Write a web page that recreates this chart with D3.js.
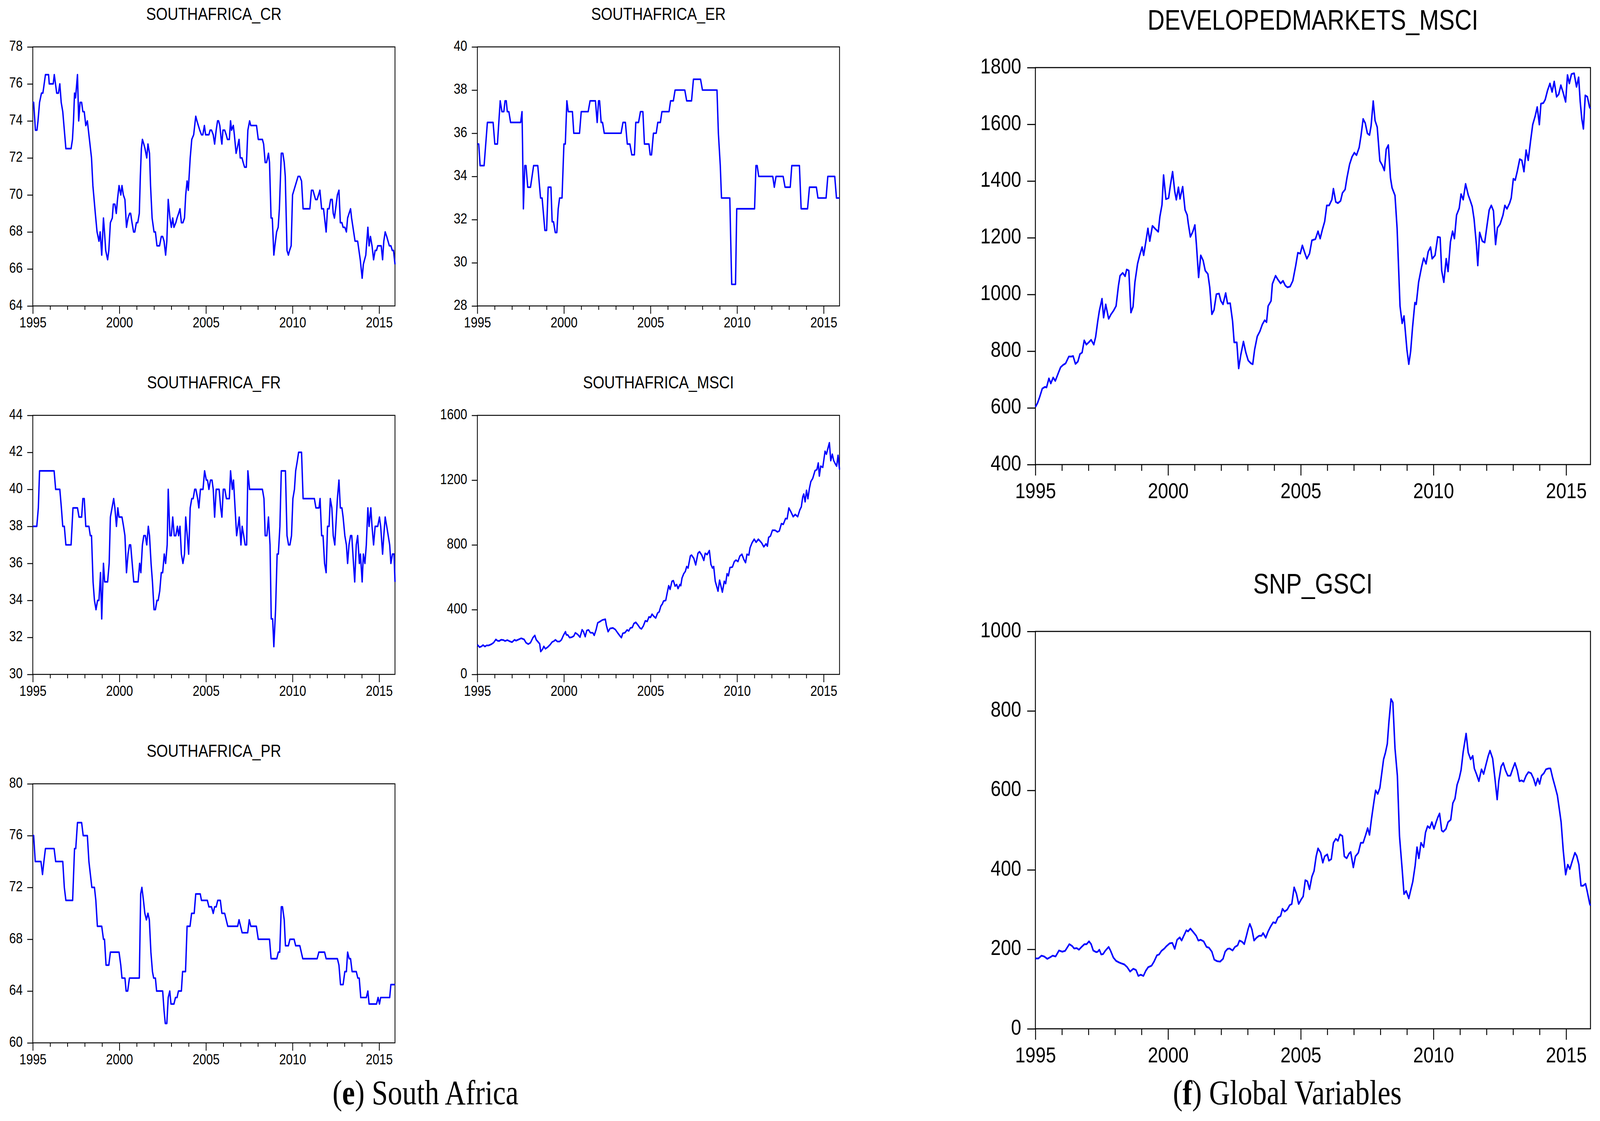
<!DOCTYPE html>
<html><head><meta charset="utf-8">
<script src="https://cdn.jsdelivr.net/npm/d3@7"></script>
<style>html,body{margin:0;padding:0;background:#fff;overflow:hidden;width:100%;height:100%}
#chart{display:block;width:100vw;height:100vh}</style>
</head><body>
<svg id="chart" viewBox="0 0 4877 2869" preserveAspectRatio="none"></svg>
<script>
// ---------- DATA ----------
const xTickYears = d3.range(1995, 2016);
const xLabelYears = [1995, 2000, 2005, 2010, 2015];
const firstObs = 1995, lastObs = 1995 + 251 / 12;

const crTicks = [64, 66, 68, 70, 72, 74, 76, 78];
const erTicks = [28, 30, 32, 34, 36, 38, 40];
const frTicks = [30, 32, 34, 36, 38, 40, 42, 44];
const saMsciTicks = [0, 400, 800, 1200, 1600];
const prTicks = [60, 64, 68, 72, 76, 80];
const devTicks = [400, 600, 800, 1000, 1200, 1400, 1600, 1800];
const gsciTicks = [0, 200, 400, 600, 800, 1000];

const crData = [[1995,75],[1995.05,75],[1995.15,73.5],[1995.24,73.5],[1995.30,74],[1995.39,75],[1995.50,75.5],[1995.58,75.5],[1995.62,75.75],[1995.73,76.5],[1995.91,76.5],[1995.95,76],[1996.18,76],[1996.24,76.5],[1996.38,75.5],[1996.48,75.5],[1996.56,76],[1996.64,75],[1996.73,74.5],[1996.82,73.5],[1996.91,72.5],[1997.21,72.5],[1997.29,73],[1997.35,74],[1997.41,75.5],[1997.47,75.25],[1997.58,76.5],[1997.65,74],[1997.73,75],[1997.82,75],[1997.89,74.5],[1997.97,74.5],[1998.06,73.75],[1998.15,74],[1998.27,73],[1998.39,72],[1998.47,70.5],[1998.61,69],[1998.71,68],[1998.82,67.5],[1998.89,68],[1998.98,66.75],[1999.08,68.75],[1999.14,68],[1999.21,67],[1999.32,66.5],[1999.39,67],[1999.48,68.5],[1999.59,68.75],[1999.65,69.5],[1999.74,69.5],[1999.82,69],[1999.89,69.75],[1999.98,70.5],[2000.08,70],[2000.15,70.5],[2000.23,70],[2000.32,69.75],[2000.41,68.25],[2000.50,68.75],[2000.59,69],[2000.65,69],[2000.73,68.5],[2000.82,68],[2000.89,68],[2000.98,68.5],[2001.06,68.5],[2001.15,69],[2001.21,71],[2001.27,72.5],[2001.33,73],[2001.41,72.75],[2001.48,72.5],[2001.58,72],[2001.65,72.75],[2001.74,72.25],[2001.80,70.5],[2001.89,68.75],[2002.00,68],[2002.08,68],[2002.17,67.25],[2002.32,67.25],[2002.42,67.75],[2002.50,67.75],[2002.58,67.5],[2002.67,66.75],[2002.74,67.5],[2002.82,69.75],[2002.92,68.75],[2003.00,68.25],[2003.08,68.75],[2003.15,68.25],[2003.26,68.5],[2003.33,68.75],[2003.42,69],[2003.50,69.25],[2003.58,68.5],[2003.67,68.5],[2003.76,68.75],[2003.83,70],[2003.91,70.75],[2003.98,70.25],[2004.09,72],[2004.18,73],[2004.29,73.25],[2004.41,74.25],[2004.48,74],[2004.64,73.5],[2004.74,73.25],[2004.82,73.25],[2004.91,73.75],[2004.98,73.25],[2005.17,73.25],[2005.24,73.5],[2005.32,73.5],[2005.42,73.25],[2005.50,72.75],[2005.59,73.5],[2005.67,74],[2005.73,74],[2005.80,73.75],[2005.88,73],[2005.92,72.75],[2005.98,73.5],[2006.08,73.5],[2006.17,73.25],[2006.24,73],[2006.35,73],[2006.42,74],[2006.48,73.5],[2006.58,73.75],[2006.64,73.25],[2006.74,72.25],[2006.80,72.5],[2006.91,73],[2006.98,72],[2007.08,72],[2007.15,71.75],[2007.23,71.5],[2007.33,71.5],[2007.42,73.5],[2007.52,74],[2007.59,73.75],[2007.92,73.75],[2008.02,73],[2008.26,73],[2008.33,72.75],[2008.42,71.75],[2008.50,71.75],[2008.61,72.25],[2008.67,71.75],[2008.76,68.75],[2008.83,68.75],[2008.92,66.75],[2008.98,67.25],[2009.08,68],[2009.17,68.25],[2009.24,69.25],[2009.35,72.25],[2009.44,72.25],[2009.52,71.75],[2009.58,71],[2009.68,67],[2009.76,66.75],[2009.83,67],[2009.92,67.25],[2010.00,70],[2010.08,70.25],[2010.32,71],[2010.42,71],[2010.52,70.75],[2010.61,69.25],[2011.00,69.25],[2011.09,70.25],[2011.18,70.25],[2011.33,69.75],[2011.42,69.75],[2011.58,70.25],[2011.68,69.25],[2011.79,69.25],[2011.94,68],[2012.02,69.25],[2012.11,69.25],[2012.20,69.75],[2012.29,69.75],[2012.35,69],[2012.42,68.75],[2012.59,70],[2012.68,70.25],[2012.76,68.5],[2012.85,68.5],[2012.92,68.25],[2013.02,68.25],[2013.11,68],[2013.18,68.75],[2013.35,69.25],[2013.41,68.75],[2013.53,68],[2013.61,67.5],[2013.76,67.5],[2013.91,66.5],[2014.02,65.5],[2014.09,66.25],[2014.23,66.75],[2014.35,68.25],[2014.42,67.25],[2014.50,67.75],[2014.59,67.25],[2014.68,66.5],[2014.77,67],[2014.85,67],[2014.92,67.25],[2015.12,67.25],[2015.20,66.5],[2015.27,67.5],[2015.35,68],[2015.44,67.75],[2015.59,67.25],[2015.68,67.25],[2015.76,67],[2015.83,67],[2015.917,66.25]];

const erData = [[1995,35.5],[1995.08,35.5],[1995.16,34.5],[1995.39,34.5],[1995.58,36.5],[1995.91,36.5],[1996.01,35.5],[1996.16,35.5],[1996.32,37.5],[1996.42,37],[1996.53,37],[1996.60,37.5],[1996.67,37.5],[1996.73,37],[1996.82,37],[1996.92,36.5],[1997.50,36.5],[1997.58,37],[1997.61,35.5],[1997.66,32.5],[1997.74,34.5],[1997.81,34.5],[1997.91,33.5],[1998.07,33.5],[1998.25,34.5],[1998.49,34.5],[1998.65,33],[1998.74,33],[1998.90,31.5],[1999.00,31.5],[1999.09,33.5],[1999.25,33.5],[1999.32,31.9],[1999.40,31.9],[1999.50,31.4],[1999.59,31.4],[1999.67,32.5],[1999.75,33],[1999.89,33],[2000.00,35.5],[2000.08,35.5],[2000.17,37.5],[2000.25,37],[2000.49,37],[2000.57,36],[2000.90,36],[2001.00,37],[2001.40,37],[2001.51,37.5],[2001.82,37.5],[2001.92,36.5],[2002.00,37.5],[2002.06,37.5],[2002.15,36.5],[2002.23,36.5],[2002.33,36],[2003.30,36],[2003.41,36.5],[2003.55,36.5],[2003.66,35.5],[2003.81,35.5],[2003.92,35],[2004.07,35],[2004.15,36.5],[2004.31,36.5],[2004.42,37],[2004.56,37],[2004.65,35.5],[2004.91,35.5],[2004.98,35],[2005.06,35],[2005.17,36],[2005.33,36],[2005.42,36.5],[2005.57,36.5],[2005.66,37],[2006.07,37],[2006.16,37.5],[2006.32,37.5],[2006.42,38],[2006.98,38],[2007.09,37.5],[2007.37,37.5],[2007.48,38.5],[2007.89,38.5],[2008.00,38],[2008.84,38],[2008.92,36],[2009.03,34.5],[2009.10,33],[2009.58,33],[2009.62,31.5],[2009.69,29],[2009.91,29],[2009.98,32.5],[2011.01,32.5],[2011.09,34.5],[2011.16,34.5],[2011.25,34],[2012.06,34],[2012.15,33.5],[2012.25,34],[2012.66,34],[2012.77,33.5],[2013.07,33.5],[2013.16,34.5],[2013.60,34.5],[2013.70,32.5],[2014.07,32.5],[2014.18,33.5],[2014.58,33.5],[2014.67,33],[2015.14,33],[2015.24,34],[2015.64,34],[2015.74,33],[2015.917,33]];

const frData = [[1995,38],[1995.23,38],[1995.32,39],[1995.39,41],[1996.23,41],[1996.32,40],[1996.56,40],[1996.65,39],[1996.73,38],[1996.82,38],[1996.91,37],[1997.21,37],[1997.32,39],[1997.58,39],[1997.67,38.5],[1997.82,38.5],[1997.89,39.5],[1997.97,39.5],[1998.06,38],[1998.24,38],[1998.32,37.5],[1998.39,37.5],[1998.48,35],[1998.56,34],[1998.65,33.5],[1998.74,34],[1998.82,34],[1998.91,35.5],[1998.98,33],[1999.08,36],[1999.15,35],[1999.32,35],[1999.41,36],[1999.48,38.5],[1999.67,39.5],[1999.74,39],[1999.83,38],[1999.91,39],[1999.98,38.5],[2000.15,38.5],[2000.24,38],[2000.32,37.5],[2000.41,35.5],[2000.50,36.5],[2000.58,37],[2000.65,37],[2000.74,36],[2000.83,35],[2001.08,35],[2001.17,36],[2001.24,35.5],[2001.33,37],[2001.41,37.5],[2001.50,37.5],[2001.58,37],[2001.67,38],[2001.74,37.5],[2001.83,36],[2001.91,35],[2002.00,33.5],[2002.08,33.5],[2002.17,34],[2002.24,34],[2002.33,34.5],[2002.42,35.5],[2002.50,35.5],[2002.59,36.5],[2002.67,36],[2002.76,37],[2002.82,40],[2002.92,37.5],[2003.00,37.5],[2003.08,38.5],[2003.17,37.5],[2003.26,37.5],[2003.35,38],[2003.42,37.5],[2003.50,38],[2003.58,36.5],[2003.67,36],[2003.76,36.5],[2003.83,38.5],[2003.92,37.5],[2004.00,36.5],[2004.09,39],[2004.18,39.5],[2004.26,39.5],[2004.35,40],[2004.42,40],[2004.52,39.5],[2004.59,39],[2004.68,40],[2004.83,40],[2004.92,41],[2005.02,40.5],[2005.09,40.5],[2005.17,40],[2005.26,40.5],[2005.35,40.5],[2005.42,40],[2005.50,38.5],[2005.59,40],[2005.76,40],[2005.85,39],[2005.92,38.5],[2006.00,40],[2006.09,40],[2006.18,39.5],[2006.35,39.5],[2006.42,41],[2006.52,40],[2006.59,40.5],[2006.68,39],[2006.77,37.5],[2006.85,38],[2006.92,38.5],[2007.02,37],[2007.09,38],[2007.18,37.5],[2007.26,37],[2007.35,37],[2007.42,41],[2007.52,40],[2008.26,40],[2008.35,39.5],[2008.42,37.5],[2008.52,37.5],[2008.61,38.5],[2008.70,37],[2008.77,33],[2008.85,33],[2008.92,31.5],[2009.02,33.5],[2009.11,36.5],[2009.18,36.5],[2009.27,38],[2009.35,41],[2009.59,41],[2009.68,37.5],[2009.77,37],[2009.85,37],[2009.94,37.5],[2010.02,39.5],[2010.11,40],[2010.18,41],[2010.27,41.5],[2010.35,42],[2010.52,42],[2010.61,39.5],[2011.26,39.5],[2011.35,39],[2011.53,39],[2011.59,39.5],[2011.68,37.5],[2011.76,37.5],[2011.85,36],[2011.94,35.5],[2012.02,38],[2012.11,38],[2012.18,39.5],[2012.27,39],[2012.35,37.5],[2012.44,37],[2012.59,39.5],[2012.68,40.5],[2012.76,39],[2012.85,39],[2012.92,38.5],[2013.02,37.5],[2013.11,37],[2013.18,36],[2013.26,37],[2013.35,37.5],[2013.42,37.5],[2013.52,36],[2013.59,35],[2013.68,37],[2013.76,37.5],[2013.86,36],[2013.92,36.5],[2014.02,35],[2014.09,36.5],[2014.18,36],[2014.26,37],[2014.35,39],[2014.42,38],[2014.52,39],[2014.59,38],[2014.68,37],[2014.77,38],[2014.92,38],[2015.02,38.5],[2015.09,38],[2015.20,36.5],[2015.27,37.5],[2015.35,38.5],[2015.44,38],[2015.61,37],[2015.68,36],[2015.77,36.5],[2015.86,36.5],[2015.917,35]];

const saMsciData = [[1995,183],[1995.13,168],[1995.24,173],[1995.33,181],[1995.44,172],[1995.53,179],[1995.66,179],[1995.82,187],[1995.94,196],[1996.07,216],[1996.16,208],[1996.26,206],[1996.37,214],[1996.51,212],[1996.60,206],[1996.73,212],[1996.84,206],[1997.00,199],[1997.15,214],[1997.23,208],[1997.39,216],[1997.53,223],[1997.70,216],[1997.81,196],[1997.94,187],[1998.07,196],[1998.21,227],[1998.32,241],[1998.40,214],[1998.49,203],[1998.60,189],[1998.66,141],[1998.77,156],[1998.84,173],[1998.93,158],[1999.07,169],[1999.20,183],[1999.32,200],[1999.43,206],[1999.51,214],[1999.62,203],[1999.75,203],[1999.86,214],[1999.97,241],[2000.09,264],[2000.14,244],[2000.22,244],[2000.33,227],[2000.46,230],[2000.57,237],[2000.66,257],[2000.80,246],[2000.93,230],[2001.05,276],[2001.13,264],[2001.23,233],[2001.32,271],[2001.42,275],[2001.53,257],[2001.67,257],[2001.75,241],[2001.86,277],[2001.95,318],[2002.06,325],[2002.22,336],[2002.39,341],[2002.45,304],[2002.55,264],[2002.67,284],[2002.83,287],[2002.97,277],[2003.10,257],[2003.24,237],[2003.32,227],[2003.40,254],[2003.52,257],[2003.65,275],[2003.74,268],[2003.84,287],[2003.95,290],[2004.04,314],[2004.15,322],[2004.28,304],[2004.39,287],[2004.48,281],[2004.59,300],[2004.70,331],[2004.81,327],[2004.91,355],[2005.00,352],[2005.09,372],[2005.19,359],[2005.30,348],[2005.41,379],[2005.50,386],[2005.60,422],[2005.69,436],[2005.75,453],[2005.88,457],[2005.96,501],[2006.05,548],[2006.13,525],[2006.24,575],[2006.32,579],[2006.42,545],[2006.51,555],[2006.59,530],[2006.70,555],[2006.75,548],[2006.82,595],[2006.92,622],[2007.01,636],[2007.09,666],[2007.17,657],[2007.30,731],[2007.37,737],[2007.50,717],[2007.61,676],[2007.74,748],[2007.83,758],[2007.96,737],[2008.08,704],[2008.16,748],[2008.27,740],[2008.40,765],[2008.49,679],[2008.58,657],[2008.65,666],[2008.74,575],[2008.90,514],[2008.99,582],[2009.15,508],[2009.26,575],[2009.34,561],[2009.42,622],[2009.50,609],[2009.59,660],[2009.73,663],[2009.84,697],[2009.94,706],[2010.05,697],[2010.16,731],[2010.28,742],[2010.39,710],[2010.49,690],[2010.57,742],[2010.68,737],[2010.75,782],[2010.86,812],[2010.99,835],[2011.10,816],[2011.23,835],[2011.42,812],[2011.54,788],[2011.67,806],[2011.75,792],[2011.82,846],[2011.93,855],[2012.04,890],[2012.20,890],[2012.33,880],[2012.44,886],[2012.56,931],[2012.67,927],[2012.80,963],[2012.89,961],[2012.99,1028],[2013.11,1004],[2013.24,974],[2013.36,988],[2013.50,974],[2013.62,1015],[2013.71,1035],[2013.79,1096],[2013.85,1114],[2013.93,1066],[2014.01,1137],[2014.09,1085],[2014.18,1150],[2014.26,1191],[2014.37,1211],[2014.50,1258],[2014.61,1265],[2014.69,1306],[2014.75,1225],[2014.83,1286],[2014.95,1279],[2015.08,1378],[2015.16,1360],[2015.24,1394],[2015.33,1431],[2015.41,1320],[2015.50,1360],[2015.58,1320],[2015.68,1299],[2015.75,1286],[2015.83,1353],[2015.917,1265]];

const prData = [[1995,76],[1995.05,76],[1995.14,74],[1995.47,74],[1995.56,73],[1995.64,74],[1995.73,75],[1996.23,75],[1996.32,74],[1996.73,74],[1996.82,72],[1996.91,71],[1997.30,71],[1997.41,75],[1997.48,75],[1997.58,77],[1997.82,77],[1997.91,76],[1998.15,76],[1998.24,74],[1998.41,72],[1998.56,72],[1998.64,71],[1998.73,69],[1998.98,69],[1999.08,68],[1999.14,68],[1999.23,66],[1999.39,66],[1999.48,67],[1999.98,67],[2000.08,66],[2000.15,65],[2000.32,65],[2000.39,64],[2000.48,64],[2000.58,65],[2001.15,65],[2001.23,71.5],[2001.30,72],[2001.39,71],[2001.47,70],[2001.56,69.5],[2001.65,70],[2001.73,69.5],[2001.82,67],[2001.91,65.5],[2001.98,65],[2002.08,65],[2002.15,64],[2002.50,64],[2002.58,62.5],[2002.65,61.5],[2002.74,61.5],[2002.82,63.5],[2002.91,64],[2002.98,63],[2003.15,63],[2003.24,63.5],[2003.33,63.5],[2003.41,64],[2003.58,64],[2003.65,65.5],[2003.82,65.5],[2003.91,69],[2004.08,69],[2004.17,70],[2004.32,70],[2004.41,71.5],[2004.67,71.5],[2004.74,71],[2005.08,71],[2005.17,70.5],[2005.32,70.5],[2005.42,70],[2005.50,70.5],[2005.59,70.5],[2005.68,71],[2005.83,71],[2005.92,70],[2006.08,70],[2006.17,69.5],[2006.26,69],[2006.83,69],[2006.91,69.5],[2007.00,69],[2007.09,68.5],[2007.41,68.5],[2007.50,69.5],[2007.59,69],[2007.91,69],[2008.02,68],[2008.67,68],[2008.76,66.5],[2009.09,66.5],[2009.18,67],[2009.26,67],[2009.35,70.5],[2009.42,70.5],[2009.52,69.5],[2009.59,67.5],[2009.76,67.5],[2009.85,68],[2010.09,68],[2010.18,67.5],[2010.42,67.5],[2010.59,66.5],[2011.42,66.5],[2011.52,67],[2011.85,67],[2011.94,66.5],[2012.59,66.5],[2012.68,66],[2012.77,64.5],[2012.92,64.5],[2013.02,65.5],[2013.11,65.5],[2013.18,67],[2013.27,66.5],[2013.35,66.5],[2013.44,65.5],[2013.68,65.5],[2013.77,65],[2013.85,65],[2013.94,63.5],[2014.26,63.5],[2014.35,64],[2014.42,63],[2014.85,63],[2014.94,63.5],[2015.02,63],[2015.09,63.5],[2015.61,63.5],[2015.68,64.5],[2015.917,64.5]];

const devMsciData = [[1995.00,603],[1995.08,617],[1995.16,638],[1995.26,668],[1995.36,674],[1995.42,672],[1995.51,704],[1995.58,686],[1995.67,707],[1995.75,695],[1995.86,722],[1995.95,743],[1996.04,751],[1996.14,757],[1996.26,781],[1996.36,781],[1996.42,783],[1996.51,755],[1996.60,763],[1996.68,790],[1996.76,795],[1996.84,838],[1996.92,823],[1997.02,832],[1997.10,840],[1997.20,823],[1997.27,850],[1997.35,906],[1997.41,942],[1997.51,985],[1997.57,918],[1997.65,965],[1997.76,914],[1997.85,930],[1997.94,942],[1998.04,959],[1998.13,1031],[1998.19,1066],[1998.29,1076],[1998.38,1064],[1998.44,1088],[1998.52,1084],[1998.60,936],[1998.68,957],[1998.75,1043],[1998.85,1108],[1998.93,1138],[1999.02,1167],[1999.08,1138],[1999.16,1185],[1999.24,1233],[1999.31,1188],[1999.41,1242],[1999.50,1233],[1999.63,1221],[1999.69,1274],[1999.77,1316],[1999.83,1421],[1999.92,1336],[2000.02,1340],[2000.09,1387],[2000.17,1433],[2000.25,1364],[2000.31,1334],[2000.39,1378],[2000.45,1337],[2000.55,1380],[2000.64,1298],[2000.72,1280],[2000.76,1251],[2000.84,1203],[2000.93,1221],[2001.01,1245],[2001.07,1173],[2001.15,1060],[2001.23,1138],[2001.32,1120],[2001.40,1084],[2001.50,1072],[2001.57,1025],[2001.65,930],[2001.73,945],[2001.82,1001],[2001.92,1003],[2001.99,977],[2002.07,965],[2002.17,1005],[2002.24,968],[2002.34,969],[2002.43,906],[2002.49,831],[2002.59,831],[2002.66,739],[2002.74,787],[2002.84,834],[2002.93,795],[2003.02,767],[2003.12,757],[2003.19,754],[2003.26,805],[2003.36,852],[2003.46,870],[2003.55,894],[2003.64,909],[2003.71,902],[2003.77,959],[2003.88,977],[2003.93,1037],[2004.05,1066],[2004.14,1052],[2004.24,1039],[2004.33,1048],[2004.42,1031],[2004.50,1025],[2004.60,1028],[2004.70,1048],[2004.81,1102],[2004.89,1147],[2004.98,1144],[2005.06,1173],[2005.16,1144],[2005.23,1126],[2005.33,1144],[2005.42,1191],[2005.55,1195],[2005.65,1223],[2005.73,1197],[2005.81,1227],[2005.90,1257],[2005.98,1314],[2006.07,1314],[2006.17,1334],[2006.23,1373],[2006.32,1326],[2006.40,1322],[2006.50,1330],[2006.57,1358],[2006.67,1370],[2006.74,1411],[2006.84,1459],[2006.93,1485],[2007.02,1500],[2007.10,1491],[2007.20,1518],[2007.27,1560],[2007.35,1619],[2007.43,1604],[2007.51,1568],[2007.59,1562],[2007.65,1595],[2007.73,1682],[2007.80,1613],[2007.88,1590],[2007.98,1471],[2008.07,1456],[2008.15,1437],[2008.22,1512],[2008.30,1527],[2008.38,1411],[2008.44,1376],[2008.55,1349],[2008.63,1233],[2008.74,959],[2008.82,898],[2008.89,924],[2009.00,805],[2009.07,754],[2009.14,799],[2009.21,882],[2009.30,971],[2009.35,965],[2009.44,1043],[2009.55,1096],[2009.63,1128],[2009.72,1108],[2009.80,1150],[2009.89,1167],[2009.95,1126],[2010.06,1138],[2010.16,1203],[2010.25,1201],[2010.31,1084],[2010.39,1043],[2010.48,1126],[2010.55,1081],[2010.64,1185],[2010.72,1223],[2010.79,1197],[2010.87,1280],[2010.97,1304],[2011.04,1354],[2011.12,1334],[2011.21,1390],[2011.31,1351],[2011.39,1330],[2011.46,1310],[2011.53,1266],[2011.62,1173],[2011.67,1102],[2011.74,1219],[2011.84,1188],[2011.93,1183],[2012.02,1245],[2012.10,1298],[2012.18,1314],[2012.26,1295],[2012.34,1176],[2012.41,1235],[2012.51,1248],[2012.62,1280],[2012.69,1314],[2012.77,1302],[2012.87,1322],[2012.93,1340],[2013.01,1408],[2013.08,1403],[2013.16,1435],[2013.25,1477],[2013.33,1473],[2013.41,1433],[2013.49,1509],[2013.57,1473],[2013.66,1542],[2013.74,1599],[2013.83,1628],[2013.91,1661],[2013.99,1599],[2014.05,1673],[2014.14,1675],[2014.21,1687],[2014.30,1720],[2014.39,1744],[2014.47,1714],[2014.55,1751],[2014.64,1697],[2014.72,1706],[2014.80,1738],[2014.88,1714],[2014.98,1679],[2015.05,1774],[2015.12,1744],[2015.20,1777],[2015.30,1780],[2015.39,1732],[2015.47,1766],[2015.53,1679],[2015.59,1619],[2015.65,1584],[2015.72,1702],[2015.80,1697],[2015.88,1661],[2015.917,1655]];

const gsciData = [[1995.00,177],[1995.11,177],[1995.23,184],[1995.33,182],[1995.45,176],[1995.58,181],[1995.65,184],[1995.76,182],[1995.89,197],[1996.01,194],[1996.12,196],[1996.28,213],[1996.39,208],[1996.46,202],[1996.56,203],[1996.64,199],[1996.74,206],[1996.85,213],[1996.93,213],[1997.02,220],[1997.10,213],[1997.18,197],[1997.29,193],[1997.35,194],[1997.41,199],[1997.48,187],[1997.55,188],[1997.63,196],[1997.76,206],[1997.83,197],[1997.94,179],[1998.04,171],[1998.15,167],[1998.22,165],[1998.35,162],[1998.46,155],[1998.57,144],[1998.69,151],[1998.79,148],[1998.88,133],[1998.97,136],[1999.07,133],[1999.16,146],[1999.25,155],[1999.38,159],[1999.47,169],[1999.58,185],[1999.66,187],[1999.75,196],[1999.86,202],[1999.94,208],[2000.06,215],[2000.16,216],[2000.25,201],[2000.34,224],[2000.44,230],[2000.51,222],[2000.59,234],[2000.69,248],[2000.75,245],[2000.84,252],[2000.93,245],[2001.06,234],[2001.14,222],[2001.23,224],[2001.34,220],[2001.45,206],[2001.54,204],[2001.65,194],[2001.74,174],[2001.85,170],[2001.96,169],[2002.07,176],[2002.15,194],[2002.24,201],[2002.32,202],[2002.43,197],[2002.52,206],[2002.62,210],[2002.69,222],[2002.79,219],[2002.87,213],[2002.96,236],[2003.02,252],[2003.08,264],[2003.16,250],[2003.24,222],[2003.33,229],[2003.43,234],[2003.52,234],[2003.58,241],[2003.68,229],[2003.77,245],[2003.86,257],[2003.96,268],[2004.05,266],[2004.14,280],[2004.24,284],[2004.31,302],[2004.39,295],[2004.49,300],[2004.58,311],[2004.66,314],[2004.75,356],[2004.84,339],[2004.92,314],[2005.02,326],[2005.09,333],[2005.17,374],[2005.25,371],[2005.33,351],[2005.42,383],[2005.50,397],[2005.58,434],[2005.65,454],[2005.75,443],[2005.83,418],[2005.90,434],[2006.00,439],[2006.06,423],[2006.15,427],[2006.23,468],[2006.32,478],[2006.40,473],[2006.48,489],[2006.57,485],[2006.64,434],[2006.73,429],[2006.82,441],[2006.88,445],[2006.98,406],[2007.06,434],[2007.17,443],[2007.26,468],[2007.35,468],[2007.45,489],[2007.52,505],[2007.59,488],[2007.66,526],[2007.73,559],[2007.82,600],[2007.90,591],[2007.98,606],[2008.04,637],[2008.12,678],[2008.19,695],[2008.26,717],[2008.32,771],[2008.40,830],[2008.47,821],[2008.55,706],[2008.64,637],[2008.72,485],[2008.82,402],[2008.89,339],[2008.97,347],[2009.07,328],[2009.14,348],[2009.22,370],[2009.31,411],[2009.38,457],[2009.45,429],[2009.53,468],[2009.63,457],[2009.70,494],[2009.78,510],[2009.86,505],[2009.94,520],[2010.02,503],[2010.11,522],[2010.17,533],[2010.23,542],[2010.31,499],[2010.37,496],[2010.47,503],[2010.55,520],[2010.65,526],[2010.73,568],[2010.81,579],[2010.89,614],[2010.97,630],[2011.04,651],[2011.12,697],[2011.23,743],[2011.31,695],[2011.40,678],[2011.48,687],[2011.54,655],[2011.62,641],[2011.71,623],[2011.81,653],[2011.89,641],[2011.96,660],[2012.06,686],[2012.13,700],[2012.23,680],[2012.31,634],[2012.40,577],[2012.46,623],[2012.55,660],[2012.63,669],[2012.71,651],[2012.80,637],[2012.90,637],[2012.99,655],[2013.07,669],[2013.16,650],[2013.24,623],[2013.32,625],[2013.40,622],[2013.49,637],[2013.58,646],[2013.68,643],[2013.77,630],[2013.85,612],[2013.93,630],[2014.00,616],[2014.07,637],[2014.16,643],[2014.24,653],[2014.33,655],[2014.41,655],[2014.49,632],[2014.58,610],[2014.67,587],[2014.74,554],[2014.81,520],[2014.89,449],[2014.98,388],[2015.06,413],[2015.14,402],[2015.23,422],[2015.33,443],[2015.40,435],[2015.48,413],[2015.56,360],[2015.64,360],[2015.73,365],[2015.79,347],[2015.89,314],[2015.917,310]];

// ---------- LAYOUT ----------
const small = {tickFont:37, titleFont:45, yTick:17, xMajor:20, xMinor:10, labelGap:14, xLabelDy:55, titleGap:69, frame:2.4, line:4.2};
const large = {tickFont:56, titleFont:72, yTick:25, xMajor:28, xMinor:16, labelGap:18, xLabelDy:86, titleGap:97, frame:2.8, line:4.5};

const panels = [
  {title:"SOUTHAFRICA_CR",   data:crData,      ticks:crTicks,     box:[100,120,1204,783],   s:small},
  {title:"SOUTHAFRICA_ER",   data:erData,      ticks:erTicks,     box:[1455,120,2559,783],  s:small},
  {title:"SOUTHAFRICA_FR",   data:frData,      ticks:frTicks,     box:[100,1063,1204,1726], s:small},
  {title:"SOUTHAFRICA_MSCI", data:saMsciData,  ticks:saMsciTicks, box:[1455,1063,2559,1726],s:small},
  {title:"SOUTHAFRICA_PR",   data:prData,      ticks:prTicks,     box:[100,2006,1204,2669], s:small},
  {title:"DEVELOPEDMARKETS_MSCI", data:devMsciData, ticks:devTicks, box:[3156,173,4848,1189], s:large},
  {title:"SNP_GSCI",         data:gsciData,    ticks:gsciTicks,   box:[3156,1616,4848,2633],s:large}
];

const FONT = "'Liberation Sans', Arial, sans-serif";
const svg = d3.select("#chart");
svg.append("rect").attr("width",4877).attr("height",2869).attr("fill","#fff");

panels.forEach(p => {
  const [x0,y0,x1,y1] = p.box, s = p.s;
  const x = d3.scaleLinear().domain([firstObs, lastObs]).range([x0, x1]);
  const y = d3.scaleLinear().domain(d3.extent(p.ticks)).range([y1, y0]);
  const g = svg.append("g");

  g.append("text").attr("x",(x0+x1)/2).attr("y",y0 - s.titleGap)
    .attr("text-anchor","middle").attr("font-family",FONT).attr("font-size",s.titleFont)
    .attr("fill","#000").text(p.title);

  const ya = g.append("g").attr("transform",`translate(${x0},0)`)
    .call(d3.axisLeft(y).tickValues(p.ticks).tickSize(s.yTick).tickPadding(s.labelGap).tickFormat(d3.format("d")));
  ya.select(".domain").remove();
  ya.selectAll("line").attr("stroke","#000").attr("stroke-width",s.frame);
  ya.selectAll("text").attr("font-family",FONT).attr("font-size",s.tickFont).attr("fill","#000")
    .attr("dy",null).attr("y", s.tickFont*0.25);

  const xa = g.append("g").attr("transform",`translate(0,${y1})`)
    .call(d3.axisBottom(x).tickValues(xTickYears).tickSize(s.xMinor)
      .tickFormat(d => xLabelYears.includes(d) ? String(d) : ""));
  xa.select(".domain").remove();
  xa.selectAll(".tick line").attr("stroke","#000").attr("stroke-width",s.frame)
    .attr("y2", d => xLabelYears.includes(d) ? s.xMajor : s.xMinor);
  xa.selectAll("text").attr("font-family",FONT).attr("font-size",s.tickFont).attr("fill","#000")
    .attr("dy",null).attr("y", s.xLabelDy);

  g.append("rect").attr("x",x0).attr("y",y0).attr("width",x1-x0).attr("height",y1-y0)
    .attr("fill","none").attr("stroke","#000").attr("stroke-width",s.frame);

  const line = d3.line().x(d => x(d[0])).y(d => y(d[1]));
  g.append("path").datum(p.data).attr("d",line).attr("fill","none")
    .attr("stroke","#0000FF").attr("stroke-width",s.line).attr("stroke-linejoin","round");
});

const SERIF = "'Palatino Linotype','Book Antiqua',Palatino,'Liberation Serif','Times New Roman',serif";
function caption(cx, letter, rest){
  const t = svg.append("text").attr("x",cx).attr("y",2826).attr("text-anchor","middle")
    .attr("font-family",SERIF).attr("font-size",88).attr("fill","#000");
  t.append("tspan").text("(");
  t.append("tspan").attr("font-weight","bold").text(letter);
  t.append("tspan").text(") " + rest);
}
caption(1297, "e", "South Africa");
caption(3924, "f", "Global Variables");
</script>
</body></html>
